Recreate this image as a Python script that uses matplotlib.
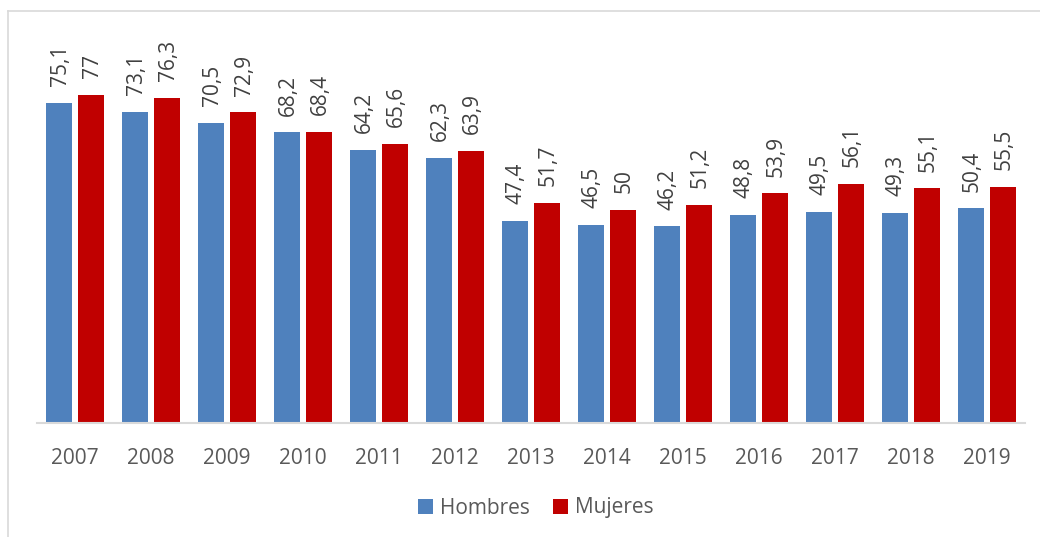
import matplotlib.pyplot as plt
import numpy as np
from matplotlib.lines import Line2D

years = ['2007', '2008', '2009', '2010', '2011', '2012', '2013',
         '2014', '2015', '2016', '2017', '2018', '2019']
hombres = [75.1, 73.1, 70.5, 68.2, 64.2, 62.3, 47.4, 46.5, 46.2, 48.8, 49.5, 49.3, 50.4]
mujeres = [77, 76.3, 72.9, 68.4, 65.6, 63.9, 51.7, 50, 51.2, 53.9, 56.1, 55.1, 55.5]

plt.rcParams['font.family'] = ['Open Sans', 'DejaVu Sans']

W, H = 1040, 537
fig = plt.figure(figsize=(W / 100, H / 100), dpi=100)

# axes placed in pixel terms
left, right, base, top = 37, 1025, 423, 40
ax = fig.add_axes([left / W, 1 - base / H, (right - left) / W, (base - top) / H])

x = np.arange(len(years))
w = 0.335
off = 0.21
b1 = ax.bar(x - off, hombres, w, color='#4F81BD', label='Hombres')
b2 = ax.bar(x + off, mujeres, w, color='#C00000', label='Mujeres')

for bars, vals in [(b1, hombres), (b2, mujeres)]:
    for rect, v in zip(bars, vals):
        ax.annotate(f"{v:g}".replace('.', ','),
                    (rect.get_x() + rect.get_width() / 2, rect.get_height()),
                    xytext=(1, 12), textcoords='offset points',
                    rotation=90, ha='center', va='bottom',
                    fontsize=15, color='#404040')

ax.set_xlim(-0.5, len(years) - 0.5)
ax.set_ylim(0, (base - top) / 4.26)
ax.set_xticks(x)
ax.set_xticklabels(years, fontsize=15, color='#595959')
ax.set_yticks([])
ax.tick_params(axis='x', length=0, pad=18)
for s in ['top', 'right', 'left']:
    ax.spines[s].set_visible(False)
ax.spines['bottom'].set_color('#D9D9D9')
ax.spines['bottom'].set_linewidth(1.5)

# chart area frame (only left and top visible in the crop)
fig.add_artist(Line2D([8 / W, 8 / W], [0, 1 - 11 / H], color='#D9D9D9', lw=1.2))
fig.add_artist(Line2D([8 / W, 1], [1 - 11 / H, 1 - 11 / H], color='#D9D9D9', lw=1.2))

fig.legend(handles=[b1, b2], labels=['Hombres', 'Mujeres'], loc='center',
           bbox_to_anchor=(536 / W, 1 - 508 / H), ncol=2, frameon=False,
           fontsize=15, handlelength=0.7, handleheight=0.7,
           handletextpad=0.35, columnspacing=1.1, labelcolor='#595959')

fig.savefig('out.png', dpi=100)
